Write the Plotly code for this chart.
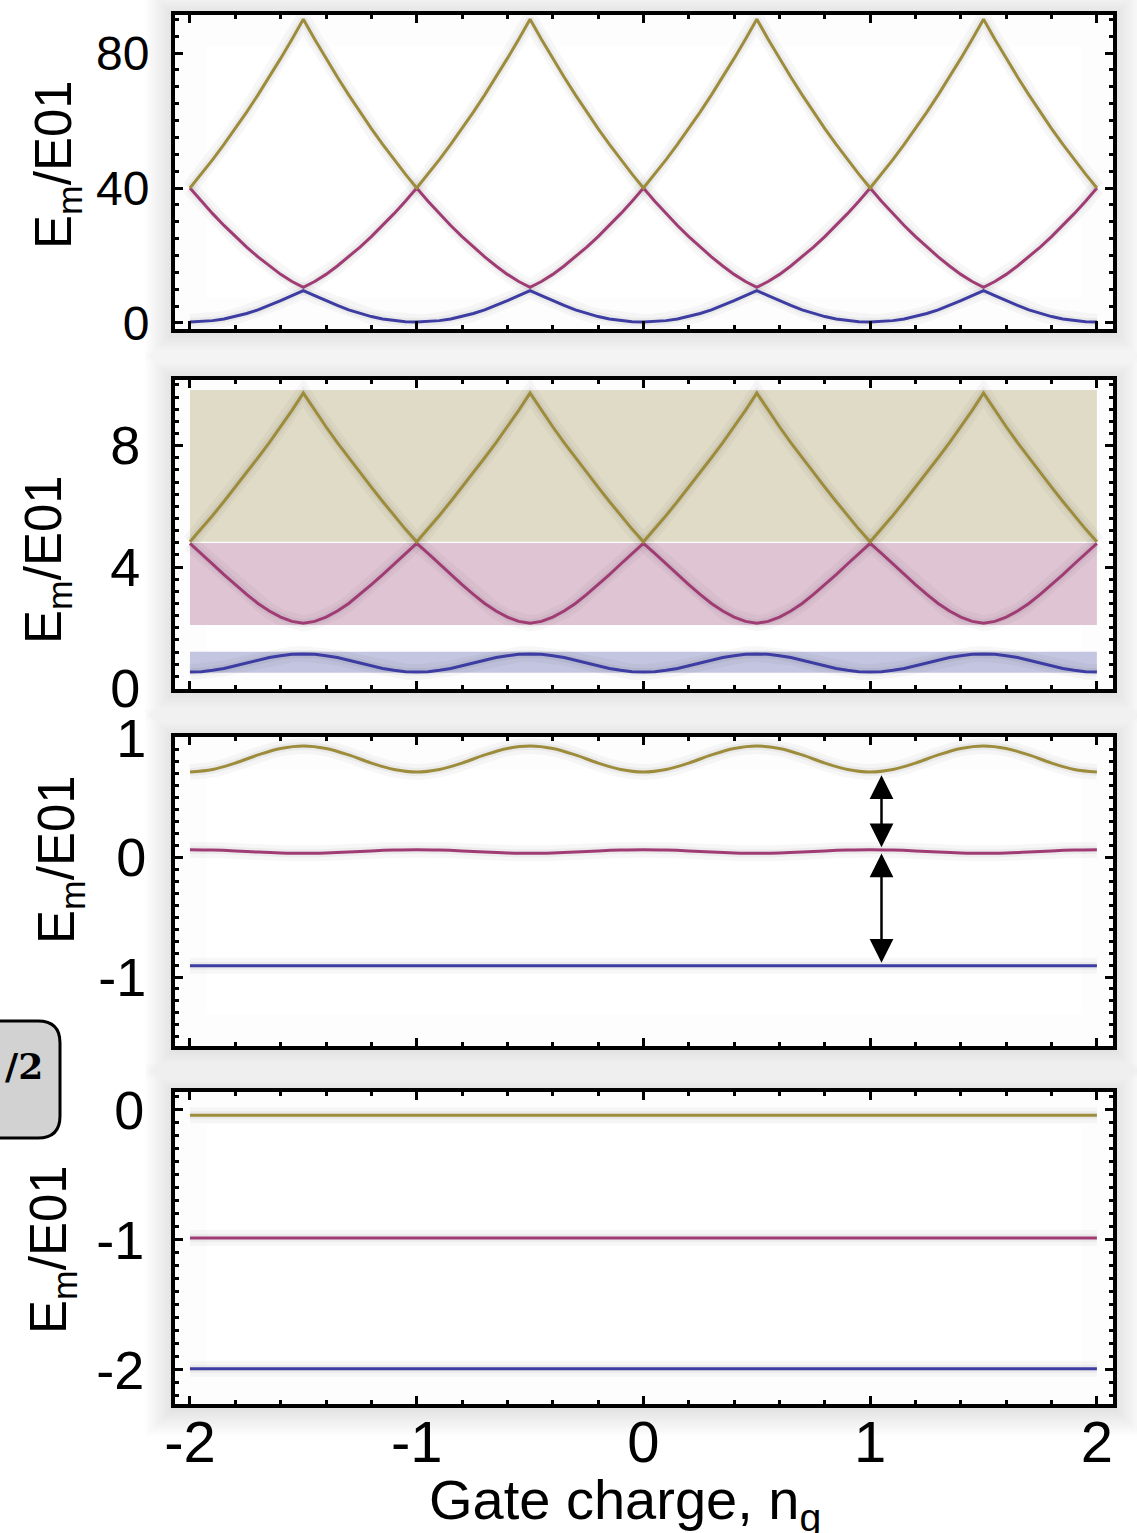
import plotly.graph_objects as go

W, H = 1137, 1533

# ---------------- data ----------------
# gate charge grid (step 0.05) for the two upper panels
ng = [-2.00, -1.95, -1.90, -1.85, -1.80, -1.75, -1.70, -1.65, -1.60, -1.55,
      -1.50, -1.45, -1.40, -1.35, -1.30, -1.25, -1.20, -1.15, -1.10, -1.05,
      -1.00, -0.95, -0.90, -0.85, -0.80, -0.75, -0.70, -0.65, -0.60, -0.55,
      -0.50, -0.45, -0.40, -0.35, -0.30, -0.25, -0.20, -0.15, -0.10, -0.05,
      0.00, 0.05, 0.10, 0.15, 0.20, 0.25, 0.30, 0.35, 0.40, 0.45,
      0.50, 0.55, 0.60, 0.65, 0.70, 0.75, 0.80, 0.85, 0.90, 0.95,
      1.00, 1.05, 1.10, 1.15, 1.20, 1.25, 1.30, 1.35, 1.40, 1.45,
      1.50, 1.55, 1.60, 1.65, 1.70, 1.75, 1.80, 1.85, 1.90, 1.95,
      2.00]

# panel 1 (charge regime)
p1_m0 = [0.3, 0.4, 0.7, 1.2, 1.9, 2.8, 3.9, 5.2, 6.6, 8.1, 9.6, 8.1, 6.6, 5.2, 3.9, 2.8, 1.9, 1.2, 0.7, 0.4,
         0.3, 0.4, 0.7, 1.2, 1.9, 2.8, 3.9, 5.2, 6.6, 8.1, 9.6, 8.1, 6.6, 5.2, 3.9, 2.8, 1.9, 1.2, 0.7, 0.4,
         0.3, 0.4, 0.7, 1.2, 1.9, 2.8, 3.9, 5.2, 6.6, 8.1, 9.6, 8.1, 6.6, 5.2, 3.9, 2.8, 1.9, 1.2, 0.7, 0.4,
         0.3, 0.4, 0.7, 1.2, 1.9, 2.8, 3.9, 5.2, 6.6, 8.1, 9.6, 8.1, 6.6, 5.2, 3.9, 2.8, 1.9, 1.2, 0.7, 0.4,
         0.3]
p1_m1 = [40.0, 36.1, 32.4, 28.9, 25.6, 22.5, 19.6, 16.9, 14.4, 12.3, 10.6, 12.3, 14.4, 16.9, 19.6, 22.5, 25.6, 28.9, 32.4, 36.1,
         40.0, 36.1, 32.4, 28.9, 25.6, 22.5, 19.6, 16.9, 14.4, 12.3, 10.6, 12.3, 14.4, 16.9, 19.6, 22.5, 25.6, 28.9, 32.4, 36.1,
         40.0, 36.1, 32.4, 28.9, 25.6, 22.5, 19.6, 16.9, 14.4, 12.3, 10.6, 12.3, 14.4, 16.9, 19.6, 22.5, 25.6, 28.9, 32.4, 36.1,
         40.0, 36.1, 32.4, 28.9, 25.6, 22.5, 19.6, 16.9, 14.4, 12.3, 10.6, 12.3, 14.4, 16.9, 19.6, 22.5, 25.6, 28.9, 32.4, 36.1,
         40.0]
p1_m2 = [40.0, 44.1, 48.4, 52.9, 57.6, 62.5, 67.6, 72.9, 78.4, 84.1, 90.0, 84.1, 78.4, 72.9, 67.6, 62.5, 57.6, 52.9, 48.4, 44.1,
         40.0, 44.1, 48.4, 52.9, 57.6, 62.5, 67.6, 72.9, 78.4, 84.1, 90.0, 84.1, 78.4, 72.9, 67.6, 62.5, 57.6, 52.9, 48.4, 44.1,
         40.0, 44.1, 48.4, 52.9, 57.6, 62.5, 67.6, 72.9, 78.4, 84.1, 90.0, 84.1, 78.4, 72.9, 67.6, 62.5, 57.6, 52.9, 48.4, 44.1,
         40.0, 44.1, 48.4, 52.9, 57.6, 62.5, 67.6, 72.9, 78.4, 84.1, 90.0, 84.1, 78.4, 72.9, 67.6, 62.5, 57.6, 52.9, 48.4, 44.1,
         40.0]

# panel 2 (intermediate regime)
p2_m0 = [0.54, 0.555, 0.60, 0.66, 0.75, 0.84, 0.93, 1.02, 1.08, 1.125, 1.14, 1.125, 1.08, 1.02, 0.93, 0.84, 0.75, 0.66, 0.60, 0.555,
         0.54, 0.555, 0.60, 0.66, 0.75, 0.84, 0.93, 1.02, 1.08, 1.125, 1.14, 1.125, 1.08, 1.02, 0.93, 0.84, 0.75, 0.66, 0.60, 0.555,
         0.54, 0.555, 0.60, 0.66, 0.75, 0.84, 0.93, 1.02, 1.08, 1.125, 1.14, 1.125, 1.08, 1.02, 0.93, 0.84, 0.75, 0.66, 0.60, 0.555,
         0.54, 0.555, 0.60, 0.66, 0.75, 0.84, 0.93, 1.02, 1.08, 1.125, 1.14, 1.125, 1.08, 1.02, 0.93, 0.84, 0.75, 0.66, 0.60, 0.555,
         0.54]
p2_m1 = [4.78, 4.45, 4.10, 3.75, 3.42, 3.10, 2.80, 2.55, 2.35, 2.21, 2.15, 2.21, 2.35, 2.55, 2.80, 3.10, 3.42, 3.75, 4.10, 4.45,
         4.78, 4.45, 4.10, 3.75, 3.42, 3.10, 2.80, 2.55, 2.35, 2.21, 2.15, 2.21, 2.35, 2.55, 2.80, 3.10, 3.42, 3.75, 4.10, 4.45,
         4.78, 4.45, 4.10, 3.75, 3.42, 3.10, 2.80, 2.55, 2.35, 2.21, 2.15, 2.21, 2.35, 2.55, 2.80, 3.10, 3.42, 3.75, 4.10, 4.45,
         4.78, 4.45, 4.10, 3.75, 3.42, 3.10, 2.80, 2.55, 2.35, 2.21, 2.15, 2.21, 2.35, 2.55, 2.80, 3.10, 3.42, 3.75, 4.10, 4.45,
         4.78]
p2_m2 = [4.83, 5.25, 5.70, 6.16, 6.63, 7.11, 7.60, 8.10, 8.62, 9.16, 9.73, 9.16, 8.62, 8.10, 7.60, 7.11, 6.63, 6.16, 5.70, 5.25,
         4.83, 5.25, 5.70, 6.16, 6.63, 7.11, 7.60, 8.10, 8.62, 9.16, 9.73, 9.16, 8.62, 8.10, 7.60, 7.11, 6.63, 6.16, 5.70, 5.25,
         4.83, 5.25, 5.70, 6.16, 6.63, 7.11, 7.60, 8.10, 8.62, 9.16, 9.73, 9.16, 8.62, 8.10, 7.60, 7.11, 6.63, 6.16, 5.70, 5.25,
         4.83, 5.25, 5.70, 6.16, 6.63, 7.11, 7.60, 8.10, 8.62, 9.16, 9.73, 9.16, 8.62, 8.10, 7.60, 7.11, 6.63, 6.16, 5.70, 5.25,
         4.83]
# energy bands shown in panel 2 (lower, upper) for m = 0, 1, 2
band_lo = [0.52, 2.09, 4.83]
band_hi = [1.21, 4.79, 9.83]

# panel 3 (transmon regime), grid step 0.1
ng3 = [-2.0, -1.9, -1.8, -1.7, -1.6, -1.5, -1.4, -1.3, -1.2, -1.1,
       -1.0, -0.9, -0.8, -0.7, -0.6, -0.5, -0.4, -0.3, -0.2, -0.1,
       0.0, 0.1, 0.2, 0.3, 0.4, 0.5, 0.6, 0.7, 0.8, 0.9,
       1.0, 1.1, 1.2, 1.3, 1.4, 1.5, 1.6, 1.7, 1.8, 1.9,
       2.0]
p3_m2 = [0.715, 0.736, 0.790, 0.858, 0.912, 0.933, 0.912, 0.858, 0.790, 0.736,
         0.715, 0.736, 0.790, 0.858, 0.912, 0.933, 0.912, 0.858, 0.790, 0.736,
         0.715, 0.736, 0.790, 0.858, 0.912, 0.933, 0.912, 0.858, 0.790, 0.736,
         0.715, 0.736, 0.790, 0.858, 0.912, 0.933, 0.912, 0.858, 0.790, 0.736,
         0.715]
p3_m1 = [0.065, 0.062, 0.055, 0.045, 0.038, 0.035, 0.038, 0.045, 0.055, 0.062,
         0.065, 0.062, 0.055, 0.045, 0.038, 0.035, 0.038, 0.045, 0.055, 0.062,
         0.065, 0.062, 0.055, 0.045, 0.038, 0.035, 0.038, 0.045, 0.055, 0.062,
         0.065, 0.062, 0.055, 0.045, 0.038, 0.035, 0.038, 0.045, 0.055, 0.062,
         0.065]
ng_flat = [-2.0, 2.0]
p3_m0 = [-0.905, -0.905]
# arrows in panel 3: x position, (tail, head) pairs
arrow_x = 1.05
arrow_pairs = [(0.70, 0.085), (0.045, -0.88)]

# panel 4 (deep transmon regime)
p4_m2 = [-0.04, -0.04]
p4_m1 = [-0.985, -0.985]
p4_m0 = [-1.99, -1.99]

x_tickvals = [-2, -1, 0, 1, 2]
x_ticktext = ["-2", "-1", "0", "1", "2"]
y_ticks = [([0, 40, 80], ["0", "40", "80"]),
           ([0, 4, 8], ["0", "4", "8"]),
           ([-1, 0, 1], ["-1", "0", "1"]),
           ([-2, -1, 0], ["-2", "-1", "0"])]
y_minor = [5, 0.4, 0.1, 0.1]
y_ranges = [[-1.78, 91.26], [-0.016, 10.16], [-1.577, 1.008], [-2.262, 0.138]]

C_M0 = "#3c3ca2"
C_M1 = "#a03c74"
C_M2 = "#9c8c3c"
BAND_COLORS = ["#c4c6e1", "#dfc4d4", "#e0dbc6"]

FONT = "Liberation Sans, Arial, Helvetica, sans-serif"

# ---------------- layout geometry (pixels) ----------------
frames = [(173, 13, 1115, 331), (173, 378, 1115, 691), (173, 735, 1115, 1048), (173, 1090, 1115, 1406)]
ytick_size = [48, 54, 54, 54]
ytick_standoff = [12, 20, 14, 16]


def px(x):
    return x / W


def py(y):
    return 1 - y / H


fig = go.Figure()

panels = [
    [(ng, p1_m0, C_M0), (ng, p1_m1, C_M1), (ng, p1_m2, C_M2)],
    [(ng, p2_m0, C_M0), (ng, p2_m1, C_M1), (ng, p2_m2, C_M2)],
    [(ng_flat, p3_m0, C_M0), (ng3, p3_m1, C_M1), (ng3, p3_m2, C_M2)],
    [(ng_flat, p4_m0, C_M0), (ng_flat, p4_m1, C_M1), (ng_flat, p4_m2, C_M2)],
]
shapes_spline = [False, False, True, False]

for i, curves in enumerate(panels):
    xa = "x" if i == 0 else f"x{i+1}"
    ya = "y" if i == 0 else f"y{i+1}"
    shape = "spline" if shapes_spline[i] else "linear"
    # soft drop shadows under the curves
    for (xs, ys, c) in curves:
        for wdt, a in [(16, 0.03), (8, 0.045)]:
            fig.add_trace(go.Scatter(x=xs, y=ys, mode="lines", xaxis=xa, yaxis=ya,
                                     line=dict(color=f"rgba(0,0,0,{a})", width=wdt, shape=shape),
                                     hoverinfo="skip", showlegend=False))
    for (xs, ys, c) in curves:
        fig.add_trace(go.Scatter(x=xs, y=ys, mode="lines", xaxis=xa, yaxis=ya,
                                 line=dict(color=c, width=3, shape=shape),
                                 hoverinfo="skip", showlegend=False))

shapes = []
# outer shadow glow + white plotting area + inner vignette
for (l, t, r, b) in frames:
    for k in range(14, 0, -1):
        e = 2.0 * k
        shapes.append(dict(type="rect", xref="paper", yref="paper", layer="below",
                           x0=px(l - e), x1=px(r + e), y0=py(b + e + 2), y1=py(t - e + 2),
                           line=dict(width=0), fillcolor="rgba(0,0,0,0.009)"))
    shapes.append(dict(type="rect", xref="paper", yref="paper", layer="below",
                       x0=px(l), x1=px(r), y0=py(b), y1=py(t),
                       line=dict(width=0), fillcolor="white"))
    for k in range(16):
        e = 3 + 2 * k
        shapes.append(dict(type="rect", xref="paper", yref="paper", layer="below",
                           x0=px(l + e), x1=px(r - e), y0=py(b - e), y1=py(t + e),
                           line=dict(width=2, color="rgba(0,0,0,0.008)"), fillcolor="rgba(0,0,0,0)"))

# bands in panel 2
for lo, hi, col in zip(band_lo, band_hi, BAND_COLORS):
    shapes.append(dict(type="rect", xref="x2", yref="y2", layer="below",
                       x0=ng[0], x1=ng[-1], y0=lo, y1=hi,
                       line=dict(width=0), fillcolor=col))

# "/2" rounded tab at the left edge
tl, tt, tr, tb, rad = -20, 1021, 60, 1138, 22
path = (f"M {px(tl)} {py(tt)} L {px(tr - rad)} {py(tt)} "
        f"Q {px(tr)} {py(tt)} {px(tr)} {py(tt + rad)} "
        f"L {px(tr)} {py(tb - rad)} Q {px(tr)} {py(tb)} {px(tr - rad)} {py(tb)} "
        f"L {px(tl)} {py(tb)} Z")
shapes.append(dict(type="path", xref="paper", yref="paper", path=path,
                   fillcolor="#d2d2d2", line=dict(color="black", width=3)))

annotations = []
annotations.append(dict(xref="paper", yref="paper", x=px(45), y=py(1066), xanchor="right", yanchor="middle",
                        text="<b>/2</b>", showarrow=False,
                        font=dict(family="DejaVu Serif, Liberation Serif, serif", size=36, color="black")))

# y-axis titles
title_pos = [(57, 165), (47, 560), (60, 860), (52, 1250)]
for (tx, ty) in title_pos:
    annotations.append(dict(xref="paper", yref="paper", x=px(tx), y=py(ty), xanchor="center", yanchor="middle",
                            text="E<sub>m</sub>/E01", textangle=-90, showarrow=False,
                            font=dict(family=FONT, size=51, color="black")))
# x-axis title
annotations.append(dict(xref="paper", yref="paper", x=px(625), y=py(1503), xanchor="center", yanchor="middle",
                        text="Gate charge, n<sub>g</sub>", showarrow=False,
                        font=dict(family=FONT, size=56, color="black")))
# arrows in panel 3
for (tail, head) in arrow_pairs:
    annotations.append(dict(xref="x3", yref="y3", axref="x3", ayref="y3",
                            x=arrow_x, y=head, ax=arrow_x, ay=tail, text="",
                            showarrow=True, arrowhead=2, startarrowhead=2, arrowside="end+start",
                            arrowsize=1.9, startarrowsize=1.9, arrowwidth=2.5, arrowcolor="black",
                            standoff=0, startstandoff=0))

layout = dict(width=W, height=H, margin=dict(l=0, r=0, t=0, b=0, pad=0, autoexpand=False),
              paper_bgcolor="white", plot_bgcolor="rgba(0,0,0,0)",
              showlegend=False, shapes=shapes, annotations=annotations,
              font=dict(family=FONT, color="black"))

for i, (l, t, r, b) in enumerate(frames):
    xk = "xaxis" if i == 0 else f"xaxis{i+1}"
    yk = "yaxis" if i == 0 else f"yaxis{i+1}"
    xa_anchor = "y" if i == 0 else f"y{i+1}"
    ya_anchor = "x" if i == 0 else f"x{i+1}"
    layout[xk] = dict(domain=[px(l + 2), px(r - 2)], anchor=xa_anchor, range=[-2.066, 2.071],
                      automargin=False,
                      showgrid=False, zeroline=False, showline=True, linewidth=4, linecolor="black",
                      mirror="ticks", ticks="inside", ticklen=8, tickwidth=3, tickcolor="black",
                      tickmode="array", tickvals=x_tickvals, ticktext=x_ticktext,
                      showticklabels=(i == 3), ticklabelstandoff=-16,
                      tickfont=dict(family=FONT, size=58, color="black"),
                      minor=dict(ticks="inside", ticklen=4, tickwidth=3, tickcolor="black",
                                 tickmode="linear", tick0=0, dtick=0.2, showgrid=False))
    tv, tt_ = y_ticks[i]
    layout[yk] = dict(domain=[py(b - 2), py(t + 2)], anchor=ya_anchor, range=y_ranges[i],
                      automargin=False,
                      showgrid=False, zeroline=False, showline=True, linewidth=4, linecolor="black",
                      mirror="ticks", ticks="inside", ticklen=8, tickwidth=3, tickcolor="black",
                      tickmode="array", tickvals=tv, ticktext=tt_,
                      ticklabelstandoff=ytick_standoff[i],
                      tickfont=dict(family=FONT, size=ytick_size[i], color="black"),
                      minor=dict(ticks="inside", ticklen=4, tickwidth=3, tickcolor="black",
                                 tickmode="linear", tick0=0, dtick=y_minor[i], showgrid=False))

fig.update_layout(**layout)
fig.write_html("out.html")
